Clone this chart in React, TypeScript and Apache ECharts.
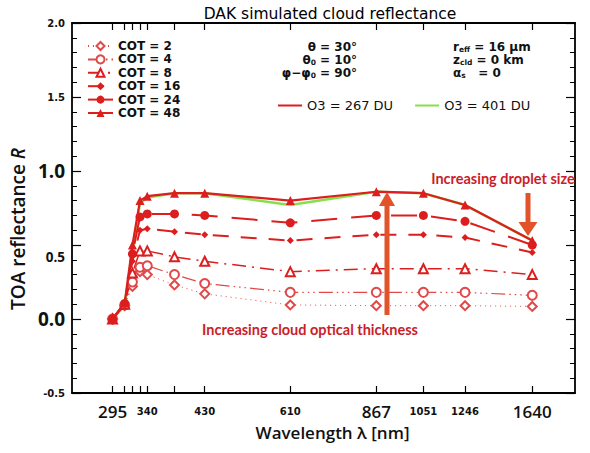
import React, { useEffect, useRef } from 'react';
import * as echarts from 'echarts';

// Wavelengths (nm) of the simulated points
const wavelengths = [295, 310, 320, 330, 340, 380, 430, 610, 867, 1051, 1246, 1640];

// TOA reflectance for O3 = 267 DU, per cloud optical thickness
const cot2 = [0, 0.09, 0.22, 0.32, 0.30, 0.23, 0.17, 0.095, 0.09, 0.09, 0.09, 0.085];
const cot4 = [0, 0.095, 0.25, 0.35, 0.36, 0.30, 0.24, 0.18, 0.18, 0.18, 0.18, 0.16];
const cot8 = [0, 0.10, 0.31, 0.46, 0.46, 0.42, 0.39, 0.32, 0.34, 0.34, 0.34, 0.30];
const cot16 = [0, 0.10, 0.39, 0.60, 0.61, 0.59, 0.57, 0.53, 0.57, 0.57, 0.55, 0.45];
const cot24 = [0, 0.105, 0.44, 0.69, 0.71, 0.71, 0.70, 0.65, 0.70, 0.70, 0.66, 0.50];
const cot48 = [0, 0.11, 0.50, 0.80, 0.83, 0.85, 0.85, 0.80, 0.86, 0.85, 0.77, 0.53];

// TOA reflectance for O3 = 401 DU (COT = 48)
const cot48HighO3 = [0, 0.09, 0.46, 0.78, 0.82, 0.85, 0.85, 0.77, 0.86, 0.85, 0.77, 0.53];

// Axis ticks and labels
const xTickValues = [295, 310, 320, 330, 340, 380, 430, 610, 867, 1051, 1246, 1640];
const xLabelValues = [295, 340, 430, 610, 867, 1051, 1246, 1640];
const xLabelBig = [295, 867, 1640];
const yLabelBig = [0, 1];
const yLabelMid = [0.5];

const cotNames = ['COT = 2', 'COT = 4', 'COT = 8', 'COT = 16', 'COT = 24', 'COT = 48'];
const o3Names = ['O3 = 267 DU', 'O3 = 401 DU'];

const RED = '#dc1e1e';
const LIGHT_RED = '#e24848';
const GREEN = '#86e04a';
const ARROW = '#e2532a';
const NOTE = '#c81e2a';

const pairs = (ys: number[]) => wavelengths.map((w, i) => [w, ys[i]]);

const axisLineStyle = { color: '#000', width: 1.8 };
const tickLineStyle = { color: '#000', width: 1.2 };

const smallFont = 'DejaVu Sans';
const bigFont = 'Open Sans';

const paramRich = {
  n: { fontFamily: smallFont, fontSize: 12, fontWeight: 'bold', fill: '#111', lineHeight: 10 },
  s: { fontFamily: smallFont, fontSize: 7.5, fontWeight: 'bold', fill: '#111', lineHeight: 5, padding: [5, 0, 0, 0] },
};

function paramText(x: number, y: number, text: string, align: string) {
  return { type: 'text', x, y, style: { text, align, verticalAlign: 'middle', rich: paramRich } };
}

function buildOption() {
  const series: any[] = [
    {
      name: o3Names[1], type: 'line', data: pairs(cot48HighO3), symbol: 'none', z: 1,
      color: GREEN, lineStyle: { color: GREEN, width: 2.5 },
    },
    {
      name: cotNames[0], type: 'line', data: pairs(cot2), symbol: 'emptyDiamond', symbolSize: 9,
      color: LIGHT_RED, itemStyle: { color: LIGHT_RED, borderWidth: 1 },
      lineStyle: { color: LIGHT_RED, width: 1, type: [1, 4] }, z: 3,
    },
    {
      name: cotNames[1], type: 'line', data: pairs(cot4), symbol: 'emptyCircle', symbolSize: 9,
      color: LIGHT_RED, itemStyle: { color: LIGHT_RED, borderWidth: 1 },
      lineStyle: { color: LIGHT_RED, width: 1.2, type: [14, 4, 1.5, 4, 1.5, 4, 1.5, 4] }, z: 3,
    },
    {
      name: cotNames[2], type: 'line', data: pairs(cot8), symbol: 'emptyTriangle', symbolSize: 9,
      color: RED, itemStyle: { color: RED, borderWidth: 1 },
      lineStyle: { color: RED, width: 1.5, type: [14, 6, 2, 6] }, z: 3,
    },
    {
      name: cotNames[3], type: 'line', data: pairs(cot16), symbol: 'diamond', symbolSize: 7,
      color: RED, itemStyle: { color: RED },
      lineStyle: { color: RED, width: 2, type: [16, 12] }, z: 3,
    },
    {
      name: cotNames[4], type: 'line', data: pairs(cot24), symbol: 'circle', symbolSize: 9,
      color: RED, itemStyle: { color: RED },
      lineStyle: { color: RED, width: 2, type: [26, 14] }, z: 3,
    },
    {
      name: cotNames[5], type: 'line', data: pairs(cot48), symbol: 'triangle', symbolSize: 9,
      color: RED, itemStyle: { color: RED },
      lineStyle: { color: RED, width: 2.2 }, z: 4,
    },
    {
      name: o3Names[0], type: 'line', data: [], symbol: 'none',
      color: RED, lineStyle: { color: RED, width: 2 },
    },
  ];

  return {
    animation: false,
    backgroundColor: '#fff',
    title: {
      text: 'DAK simulated cloud reflectance',
      left: 325, top: 1, textAlign: 'center',
      textStyle: { fontFamily: smallFont, fontSize: 15.5, fontWeight: 'normal', color: '#000' },
    },
    grid: { left: 69, right: 15, top: 23, bottom: 60, containLabel: false },
    legend: [
      {
        data: cotNames, orient: 'vertical', left: 82, top: 35,
        itemWidth: 25, itemHeight: 10, itemGap: 1.4, selectedMode: false,
        textStyle: { fontFamily: smallFont, fontWeight: 'bold', fontSize: 12, color: '#111' },
      },
      {
        data: o3Names.map((n) => ({ name: n, icon: 'rect' })), orient: 'horizontal', left: 273, top: 94,
        itemWidth: 24, itemHeight: 2, itemGap: 22, selectedMode: false,
        textStyle: { fontFamily: smallFont, fontSize: 13, color: '#111' },
      },
    ],
    xAxis: [
      {
        type: 'log', min: 250, max: 1953, position: 'bottom',
        axisLine: { show: true, onZero: false, lineStyle: axisLineStyle },
        axisTick: { show: true, inside: true, length: 7, customValues: xTickValues, lineStyle: tickLineStyle },
        minorTick: { show: false },
        splitLine: { show: false },
        axisLabel: {
          customValues: xLabelValues, margin: 8,
          formatter: (v: number) => (xLabelBig.includes(Math.round(v)) ? `{b|${Math.round(v)}}` : `{s|${Math.round(v)}}`),
          rich: {
            b: { fontFamily: bigFont, fontWeight: 600, fontSize: 17, color: '#111', lineHeight: 20 },
            s: { fontFamily: smallFont, fontWeight: 'bold', fontSize: 10, color: '#111', lineHeight: 20 },
          },
        },
        name: 'Wavelength λ [nm]', nameLocation: 'middle', nameGap: 27,
        nameTextStyle: { fontFamily: bigFont, fontWeight: 600, fontSize: 17, color: '#111', padding: [0, 0, 0, 18] },
      },
      {
        type: 'log', min: 250, max: 1953, position: 'top',
        axisLine: { show: true, onZero: false, lineStyle: axisLineStyle },
        axisTick: { show: true, inside: true, length: 7, customValues: xTickValues, lineStyle: tickLineStyle },
        axisLabel: { show: false },
        splitLine: { show: false },
      },
    ],
    yAxis: [
      {
        type: 'value', min: -0.5, max: 2, interval: 0.5, position: 'left',
        axisLine: { show: true, onZero: false, lineStyle: axisLineStyle },
        axisTick: { show: true, inside: true, length: 9, lineStyle: tickLineStyle },
        minorTick: { show: true, splitNumber: 5, length: 5, lineStyle: { color: '#000', width: 1 } },
        splitLine: { show: false },
        axisLabel: {
          margin: 7,
          formatter: (v: number) => {
            const t = v.toFixed(1);
            if (yLabelBig.includes(v)) return `{b|${t}}`;
            if (yLabelMid.includes(v)) return `{m|${t}}`;
            return `{s|${t}}`;
          },
          rich: {
            b: { fontFamily: bigFont, fontWeight: 700, fontSize: 19, color: '#111' },
            m: { fontFamily: bigFont, fontWeight: 700, fontSize: 13.5, color: '#111', padding: [24, 0, 0, 0] },
            s: { fontFamily: smallFont, fontWeight: 'bold', fontSize: 10, color: '#111' },
          },
        },
        name: 'TOA reflectance {i|R}', nameLocation: 'middle', nameGap: 35, nameRotate: 90,
        nameTextStyle: {
          fontFamily: bigFont, fontWeight: 600, fontSize: 19, color: '#111', padding: [0, 42, 0, 0],
          rich: { i: { fontFamily: bigFont, fontWeight: 600, fontStyle: 'italic', fontSize: 19, color: '#111' } },
        },
      },
      {
        type: 'value', min: -0.5, max: 2, interval: 0.5, position: 'right',
        axisLine: { show: true, onZero: false, lineStyle: axisLineStyle },
        axisTick: { show: true, inside: true, length: 9, lineStyle: tickLineStyle },
        minorTick: { show: true, splitNumber: 5, length: 5, lineStyle: { color: '#000', width: 1 } },
        splitLine: { show: false },
        axisLabel: { show: false },
      },
    ],
    series,
    graphic: [
      paramText(357, 47, '{n|θ = 30°}', 'right'),
      paramText(357, 60, '{n|θ}{s|0}{n| = 10°}', 'right'),
      paramText(357, 73, '{n|φ−φ}{s|0}{n| = 90°}', 'right'),
      paramText(453, 47, '{n|r}{s|eff}{n| = 16 μm}', 'left'),
      paramText(453, 60, '{n|z}{s|cld}{n| = 0 km}', 'left'),
      paramText(453, 73, '{n|α}{s|s}{n|   = 0}', 'left'),
      {
        type: 'text', x: 310, y: 329, z: 10,
        style: { text: 'Increasing cloud optical thickness', font: 'bold 14.5px "Lato"', fill: NOTE, align: 'center', verticalAlign: 'middle' },
      },
      {
        type: 'text', x: 503, y: 178, z: 10,
        style: { text: 'Increasing droplet size', font: 'bold 14.5px "Lato"', fill: NOTE, align: 'center', verticalAlign: 'middle' },
      },
      {
        type: 'polygon', z: 10,
        shape: { points: [[384.5, 315], [389.5, 315], [389.5, 206], [395, 206], [387, 192], [379, 206], [384.5, 206]] },
        style: { fill: ARROW },
      },
      {
        type: 'polygon', z: 10,
        shape: { points: [[525.5, 193], [530.5, 193], [530.5, 222], [537.5, 222], [528, 236], [518.5, 222], [525.5, 222]] },
        style: { fill: ARROW },
      },
    ],
  };
}

export default function App() {
  const ref = useRef<HTMLDivElement>(null);
  useEffect(() => {
    if (!ref.current) return;
    const chart = echarts.init(ref.current, null, { renderer: 'svg' });
    chart.setOption(buildOption() as any);
    return () => chart.dispose();
  }, []);
  return (
    <div
      ref={ref}
      style={{ position: 'fixed', left: 0, top: 0, width: 590, height: 453, background: '#fff' }}
    />
  );
}
